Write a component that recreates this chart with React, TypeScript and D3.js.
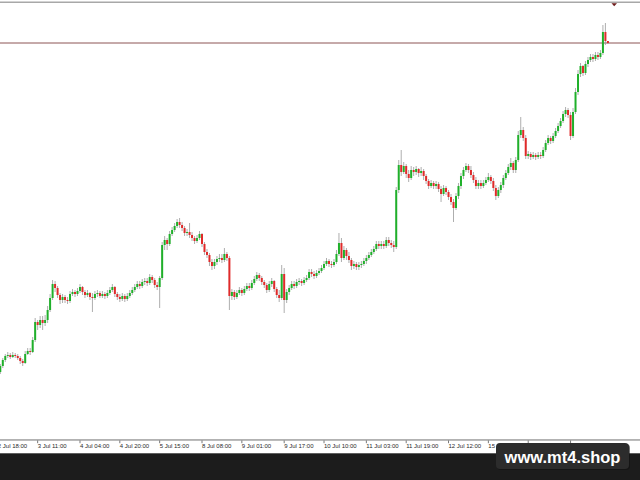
import React from "react";
import * as d3 from "d3";

// XAUUSD-like hourly candles (open of each bar = previous close)
const firstOpen = 2328;
const closes = [
  2334,2340,2344,2345,2343,2345,2344,2342,2339,2337,
  2346,2349,2348,2360,2378,2375,2380,2377,2380,2390,
  2402,2416,2412,2405,2400,2403,2400,2399,2406,2408,
  2406,2409,2413,2408,2405,2407,2403,2402,2406,2407,
  2404,2406,2404,2407,2410,2413,2406,2403,2401,2404,
  2401,2404,2407,2410,2413,2416,2414,2418,2419,2417,
  2423,2420,2415,2413,2422,2455,2460,2456,2466,2470,
  2474,2478,2475,2472,2467,2468,2465,2462,2459,2462,
  2466,2456,2448,2445,2438,2434,2438,2441,2442,2440,
  2446,2442,2404,2408,2403,2407,2410,2407,2411,2414,
  2412,2417,2421,2425,2422,2418,2415,2410,2416,2419,
  2411,2405,2402,2426,2400,2408,2412,2416,2414,2418,
  2419,2417,2420,2422,2428,2426,2424,2427,2429,2432,
  2436,2439,2436,2435,2438,2446,2457,2442,2450,2444,
  2440,2434,2436,2433,2435,2436,2439,2442,2445,2448,
  2451,2456,2454,2456,2454,2460,2457,2455,2453,2510,
  2535,2528,2534,2526,2522,2530,2528,2531,2527,2529,
  2524,2519,2514,2517,2514,2516,2511,2506,2512,2508,
  2503,2498,2492,2504,2514,2524,2530,2534,2530,2525,
  2520,2514,2517,2514,2517,2520,2523,2519,2512,2504,
  2510,2515,2522,2527,2533,2537,2530,2540,2565,2570,
  2562,2544,2546,2543,2545,2543,2545,2544,2550,2557,
  2562,2559,2564,2569,2574,2579,2586,2590,2585,2564,
  2588,2608,2626,2634,2627,2636,2640,2643,2641,2645,
  2643,2647,2668,2659,2657,
];
const highs = [
  2336,2342,2346,2348,2347,2348,2347,2346,2344,2341,
  2349,2352,2352,2363,2382,2380,2384,2384,2385,2394,
  2406,2420,2419,2414,2407,2406,2405,2403,2409,2411,
  2410,2412,2416,2414,2410,2410,2408,2407,2409,2410,
  2409,2409,2408,2410,2413,2416,2414,2408,2406,2407,
  2406,2407,2410,2413,2416,2419,2419,2421,2422,2422,
  2426,2425,2422,2418,2424,2458,2464,2462,2469,2473,
  2477,2481,2482,2478,2474,2471,2477,2468,2464,2465,
  2469,2467,2458,2451,2447,2441,2441,2444,2446,2446,
  2452,2448,2444,2411,2410,2410,2413,2412,2414,2417,
  2417,2420,2424,2428,2427,2424,2420,2417,2419,2422,
  2420,2413,2410,2435,2432,2411,2415,2419,2419,2421,
  2422,2421,2423,2425,2431,2431,2429,2430,2432,2435,
  2439,2442,2441,2439,2441,2450,2467,2462,2454,2452,
  2448,2442,2439,2438,2438,2439,2442,2445,2448,2451,
  2454,2459,2459,2459,2459,2463,2463,2460,2459,2513,
  2540,2550,2538,2536,2530,2534,2533,2534,2532,2533,
  2531,2526,2521,2520,2519,2519,2518,2514,2515,2514,
  2510,2506,2501,2507,2517,2527,2533,2537,2536,2534,
  2528,2523,2520,2520,2520,2523,2527,2525,2522,2515,
  2513,2518,2525,2530,2536,2542,2539,2543,2569,2583,
  2573,2565,2549,2548,2548,2547,2548,2548,2553,2560,
  2565,2564,2567,2572,2577,2582,2589,2593,2592,2588,
  2592,2612,2630,2637,2635,2639,2643,2646,2646,2648,
  2648,2650,2675,2677,2659,
];
const lows = [
  2326,2332,2338,2342,2341,2342,2342,2340,2336,2334,
  2336,2345,2345,2347,2358,2370,2372,2370,2374,2377,
  2388,2400,2408,2402,2396,2397,2397,2396,2397,2404,
  2403,2404,2407,2405,2402,2403,2400,2388,2400,2403,
  2402,2402,2401,2402,2405,2408,2403,2400,2398,2399,
  2398,2399,2402,2405,2408,2411,2411,2412,2415,2414,
  2415,2417,2412,2410,2392,2420,2450,2450,2454,2464,
  2468,2472,2472,2469,2464,2464,2462,2459,2456,2457,
  2460,2453,2445,2442,2434,2430,2431,2435,2438,2437,
  2438,2439,2390,2400,2400,2401,2405,2404,2405,2409,
  2409,2410,2415,2419,2419,2415,2412,2407,2408,2413,
  2408,2402,2398,2400,2387,2397,2405,2410,2411,2412,
  2415,2414,2415,2418,2420,2423,2421,2422,2425,2427,
  2430,2434,2433,2432,2433,2436,2444,2438,2440,2440,
  2437,2430,2431,2430,2430,2432,2434,2436,2440,2443,
  2446,2449,2451,2451,2451,2452,2454,2452,2448,2451,
  2507,2524,2526,2522,2518,2520,2524,2525,2523,2524,
  2520,2516,2511,2512,2511,2511,2508,2498,2504,2505,
  2500,2495,2478,2490,2501,2511,2521,2528,2527,2522,
  2517,2511,2511,2511,2512,2515,2518,2516,2509,2500,
  2502,2507,2512,2520,2525,2530,2527,2527,2538,2562,
  2559,2541,2541,2540,2541,2540,2541,2541,2542,2548,
  2555,2556,2557,2562,2567,2572,2577,2583,2582,2560,
  2562,2586,2605,2623,2624,2625,2633,2638,2638,2639,
  2640,2641,2645,2655,2656,
];
const tickLabels = [
  "2 Jul 18:00", "3 Jul 11:00", "4 Jul 04:00", "4 Jul 20:00", "5 Jul 15:00",
  "8 Jul 08:00", "9 Jul 01:00", "9 Jul 17:00", "10 Jul 10:00", "11 Jul 03:00",
  "11 Jul 19:00", "12 Jul 12:00", "15 Jul 05:00", "15 Jul 21:00", "16 Jul 14:00",
];
const tickBars = [-1, 15, 32, 48, 64, 81, 97, 114, 130, 147, 163, 180, 196, 212, 229];
const currentPrice = 2657;
const watermark = "www.mt4.shop";

export default function App() {
  const W = 640;
  const H = 480;
  const n = closes.length;
  const x = d3.scaleLinear().domain([0, n - 1]).range([0.3, 607.9]);
  const y = d3.scaleLinear().domain([2260, 2700]).range([440, 0]);
  const candles = closes.map((c, i) => ({
    o: i === 0 ? firstOpen : closes[i - 1],
    c,
    h: highs[i],
    l: lows[i],
  }));
  const up = "#1fb02a";
  const down = "#e02a2a";
  const bw = 2;

  return (
    <svg
      width={W}
      height={H}
      style={{ position: "fixed", left: 0, top: 0, display: "block" }}
      fontFamily="'Liberation Sans', Arial, sans-serif"
    >
      <rect x={0} y={0} width={W} height={H} fill="#ffffff" />
      {/* top border */}
      <rect x={0} y={1.5} width={W} height={1.5} fill="#a8a8a8" />
      {/* current price line */}
      <line x1={0} x2={W} y1={y(currentPrice)} y2={y(currentPrice)} stroke="#8c5555" strokeWidth={1} />
      {/* candles */}
      {candles.map((d, i) => {
        const cx = x(i);
        const top = Math.max(d.o, d.c);
        const bot = Math.min(d.o, d.c);
        const yTop = y(top);
        const h = Math.max(0.9, y(bot) - yTop);
        return (
          <g key={i}>
            <line
              x1={cx}
              x2={cx}
              y1={y(Math.max(d.h, top))}
              y2={y(Math.min(d.l, bot))}
              stroke="#999999"
              strokeWidth={0.8}
            />
            <rect x={cx - bw / 2} y={yTop} width={bw} height={h} fill={d.c >= d.o ? up : down} />
          </g>
        );
      })}
      {/* shift marker */}
      <path d="M611.5,3.2 L617,3.2 L614.2,6.2 Z" fill="#6e1c1c" />
      {/* x axis */}
      <rect x={0} y={440.5} width={W} height={13} fill="#ffffff" />
      <rect x={0} y={439.2} width={W} height={1.5} fill="#a0a0a0" />
      {tickBars.map((b, k) => (
        <g key={k}>
          <line x1={x(b)} x2={x(b)} y1={440.5} y2={443.2} stroke="#555" strokeWidth={0.8} />
          <text x={x(b)} y={447.8} fontSize={6} fill="#2a2a2a">
            {tickLabels[k]}
          </text>
        </g>
      ))}
      <rect x={0} y={453.3} width={W} height={H - 453.3} fill="#1c1c1c" />
      {/* watermark */}
      <rect x={497} y={444} width={133} height={26} rx={4} fill="#111" opacity={0.6} />
      <rect x={496} y={443} width={133} height={26} rx={4} fill="#2c2c2c" />
      <text
        x={562.5}
        y={462.5}
        textAnchor="middle"
        fontSize={16.5}
        fontWeight="bold"
        fill="#ffffff"
      >
        {watermark}
      </text>
    </svg>
  );
}
